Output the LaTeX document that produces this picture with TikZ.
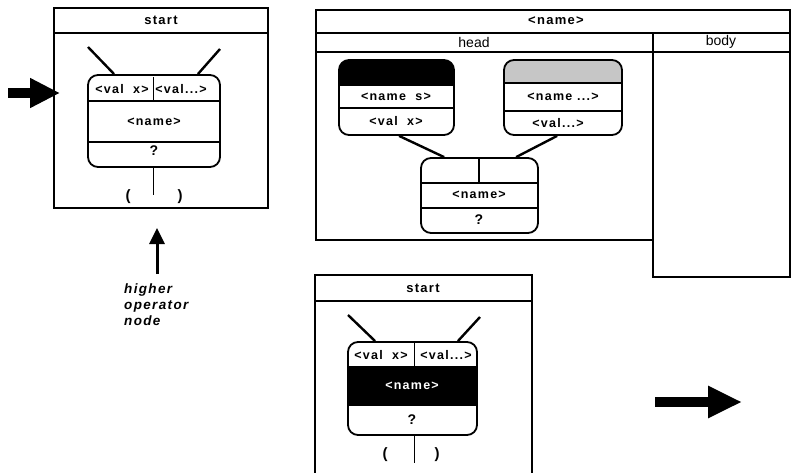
\documentclass[tikz,border=0pt]{standalone}
\usepackage{fontspec}
\setmainfont{Liberation Sans}
\newfontfamily\spfont{Liberation Sans}[LetterSpace=10]
\usetikzlibrary{arrows.meta,calc}
\begin{document}
\begin{tikzpicture}[x=1pt,y=-1pt,
  frame/.style={draw,line width=1.6pt},
  sep/.style={line width=1.3pt},
  link/.style={line width=2.4pt},
  opbox/.style={draw,line width=1.8pt,rounded corners=10pt,inner sep=0pt},
  lbl/.style={font=\spfont\fontsize{12.5}{13}\selectfont\bfseries,inner sep=0pt},
  qm/.style={font=\fontsize{14}{15}\selectfont\bfseries,inner sep=0pt},
  ttl/.style={font=\spfont\fontsize{13}{14}\selectfont\bfseries,inner sep=0pt},
  par/.style={font=\fontsize{15}{16}\selectfont\bfseries,inner sep=0pt},
  bigarrow/.style={line width=10pt,-{Triangle[length=30pt,width=28pt]}},
  note/.style={font=\spfont\fontsize{13.5}{15}\selectfont\bfseries\itshape,inner sep=0pt,anchor=base west}
]
\useasboundingbox (0,0) rectangle (792,472);

% ---------- left "start" frame ----------
\draw[frame] (54,8) rectangle (268,208);
\draw[frame] (54,33) -- (268,33);
\node[ttl] (st1) at (161,20) {start};
\node[opbox,minimum width=132pt,minimum height=92pt] (n1) at (154,121) {};
\draw[sep] (88,101) -- (220,101);
\draw[sep] (88,142) -- (220,142);
\draw[line width=0.8pt] (153,77) -- (153,101);
\node[lbl] (n1a) at (122,89) {<val\ \ x>};
\node[lbl] (n1b) at (181,89) {<val...>};
\node[lbl] (n1c) at (154,122) {<name>};
\node[qm] (n1d) at (154,151) {?};
\coordinate (l1) at (88,47);
\coordinate (r1) at (220,49);
\draw[link] (l1) -- ($(n1.north west)+(27,0)$);
\draw[link] (r1) -- ($(n1.north east)+(-23,0)$);
\coordinate (b1) at (153,195);
\draw[line width=0.8pt] (n1.south -| b1) -- (b1);
\node[par] (p1) at (128,197) {(};
\node[par] (p2) at (180,197) {)};

% arrows at left
\coordinate (la0) at (8,93);
\coordinate (la1) at (60,93);
\draw[bigarrow] (la0) -- (la1);
\coordinate (ua0) at (157,274);
\coordinate (ua1) at (157,228);
\draw[line width=3pt,-{Triangle[length=16pt,width=15pt]}] (ua0) -- (ua1);
\node[note] (h1) at (124,293) {higher};
\node[note] (h2) at (124,309) {operator};
\node[note] (h3) at (124,325) {node};

% ---------- top right frame ----------
\draw[frame] (316,10) rectangle (790,33);
\draw[frame] (316,33) rectangle (653,240);
\draw[frame] (653,33) rectangle (790,277);
\draw[frame] (316,52) -- (790,52);
\node[ttl] (nm) at (556,21) {<name>};
\node[font=\fontsize{14}{15}\selectfont,inner sep=0pt] (hd) at (474,42) {head};
\node[font=\fontsize{14}{15}\selectfont,inner sep=0pt] (bd) at (721,42) {body};

% black-top node
\begin{scope}
  \clip[rounded corners=10pt] (339,60) rectangle (454,135);
  \fill (339,60) rectangle (454,85);
\end{scope}
\node[opbox,minimum width=115pt,minimum height=75pt] (n2) at (396.5,97.5) {};
\draw[sep] (339,85) -- (454,85);
\draw[sep] (339,108) -- (454,108);
\node[lbl] (n2a) at (396,97) {<name\ \ s>};
\node[lbl] (n2b) at (396,121) {<val\ \ x>};

% grey-top node
\begin{scope}
  \clip[rounded corners=10pt] (504,60) rectangle (622,135);
  \fill[gray!45] (504,60) rectangle (622,83);
\end{scope}
\node[opbox,minimum width=118pt,minimum height=75pt] (n3) at (563,97.5) {};
\draw[sep] (504,83) -- (622,83);
\draw[sep] (504,111) -- (622,111);
\node[lbl] (n3a) at (563,97) {<name ...>};
\node[lbl] (n3b) at (558,123) {<val...>};

% lower node
\node[opbox,minimum width=117pt,minimum height=75pt] (n4) at (479.5,195.5) {};
\draw[sep] (421,183) -- (538,183);
\draw[sep] (421,208) -- (538,208);
\draw[sep] (479,158) -- (479,183);
\node[lbl] (n4a) at (479,195) {<name>};
\node[qm] (n4b) at (479,220) {?};
\draw[link] ($(n2.south west)+(61,0)$) -- ($(n4.north west)+(24,0)$);
\draw[link] ($(n3.south west)+(54,0)$) -- ($(n4.north west)+(96,0)$);

% ---------- bottom "start" frame ----------
\draw[frame] (315,480) -- (315,275) -- (532,275) -- (532,480);
\draw[frame] (315,301) -- (532,301);
\node[ttl] (st2) at (423,288) {start};
\fill (348,367) rectangle (477,405);
\node[opbox,minimum width=129pt,minimum height=93pt] (n5) at (412.5,388.5) {};
\draw[sep] (348,367) -- (477,367);
\draw[sep] (348,405) -- (477,405);
\draw[line width=0.8pt] (414,342) -- (414,367);
\node[lbl] (n5a) at (381,355) {<val\ \ x>};
\node[lbl] (n5b) at (446,355) {<val...>};
\node[lbl,text=white] (n5c) at (412,386) {<name>};
\node[qm] (n5d) at (412,420) {?};
\coordinate (l5) at (348,315);
\coordinate (r5) at (480,317);
\draw[link] (l5) -- ($(n5.north west)+(28,0)$);
\draw[link] (r5) -- ($(n5.north east)+(-20,0)$);
\coordinate (b5) at (414,463);
\draw[line width=0.8pt] (n5.south -| b5) -- (b5);
\node[par] (p3) at (385,455) {(};
\node[par] (p4) at (437,455) {)};

% right arrow
\coordinate (ra0) at (655,402);
\coordinate (ra1) at (742,402);
\draw[line width=10pt,-{Triangle[length=34pt,width=30pt]}] (ra0) -- (ra1);
\end{tikzpicture}
\end{document}
